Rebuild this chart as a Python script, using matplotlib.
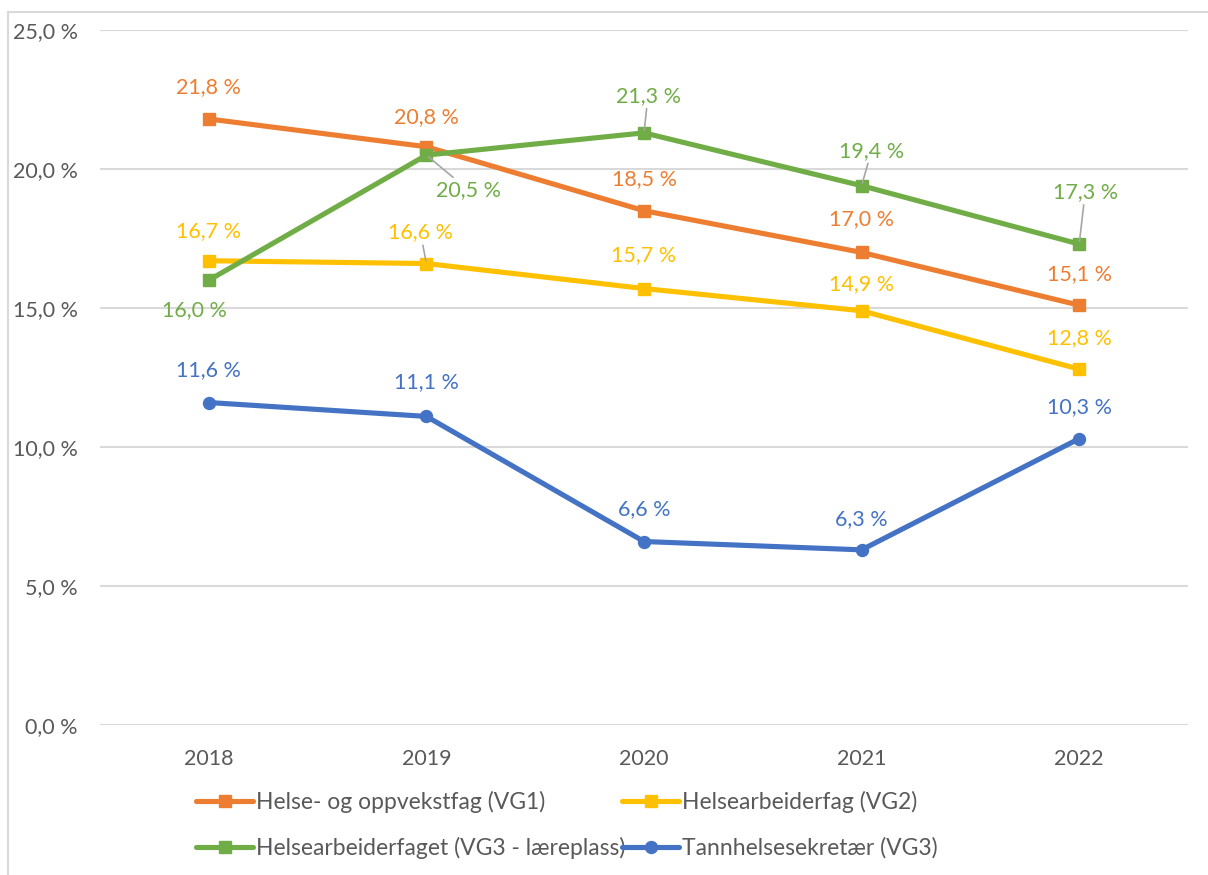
import matplotlib
matplotlib.use("Agg")
import matplotlib.pyplot as plt
from matplotlib.lines import Line2D
from matplotlib.ticker import FuncFormatter

plt.rcParams['font.family'] = ['Lato', 'DejaVu Sans']

years = ["2018", "2019", "2020", "2021", "2022"]
names = ["Helse- og oppvekstfag (VG1)", "Helsearbeiderfag (VG2)",
         "Helsearbeiderfaget (VG3 - læreplass)", "Tannhelsesekretær (VG3)"]
vg1 = [21.8, 20.8, 18.5, 17.0, 15.1]
vg2 = [16.7, 16.6, 15.7, 14.9, 12.8]
vg3_laer = [16.0, 20.5, 21.3, 19.4, 17.3]
tannh = [11.6, 11.1, 6.6, 6.3, 10.3]
series = [vg1, vg2, vg3_laer, tannh]

colors = ["#ED7D31", "#FFC000", "#70AD47", "#4472C4"]
markers = ["s", "s", "s", "o"]
msizes = [8.6, 8.6, 8.0, 8.6]

# label offsets in pixels (dx, dy) and whether a leader line is drawn
offsets = [
    [(0, 32), (0, 30), (0, 32), (0, 33), (0, 31)],
    [(0, 30), (-6, 31), (0, 33), (0, 27), (0, 31)],
    [(-14, -30), (42, -35), (4, 37), (10, 35), (6, 52)],
    [(0, 32), (0, 34), (0, 32), (0, 31), (0, 32)],
]
leaders = [
    [False] * 5,
    [False, True, False, False, False],
    [False, True, True, True, True],
    [False] * 5,
]

W, H = 1208, 875
fig = plt.figure(figsize=(W / 100, H / 100), dpi=100)
ax = fig.add_axes([100 / W, 150 / H, 1088 / W, 695 / H])

x = list(range(len(years)))
handles = []
for i, (vals, c, m, ms) in enumerate(zip(series, colors, markers, msizes)):
    ln, = ax.plot(x, vals, color=c, lw=3.7, marker=m, markersize=ms,
                  solid_capstyle='round', solid_joinstyle='round',
                  label=names[i], zorder=3 + i)
    handles.append(ln)
    for j, v in enumerate(vals):
        dx, dy = offsets[i][j]
        kw = {}
        if leaders[i][j]:
            kw['arrowprops'] = dict(arrowstyle='-', color='#A6A6A6', lw=1.2,
                                    shrinkA=0, shrinkB=2)
        ax.annotate(f"{v:.1f} %".replace('.', ','), xy=(j, v),
                    xytext=(dx, dy), textcoords='offset pixels',
                    ha='center', va='center', color=c, fontsize=15.5,
                    zorder=10, **kw)

ax.set_xlim(-0.5, len(years) - 0.5)
ax.set_ylim(0, 25)
ax.set_yticks([0, 5, 10, 15, 20, 25])
ax.yaxis.set_major_formatter(FuncFormatter(lambda v, p: f"{v:.1f} %".replace('.', ',')))
ax.set_xticks(x)
ax.set_xticklabels(years)
ax.tick_params(axis='both', length=0, labelsize=15.5, labelcolor='#595959')
ax.tick_params(axis='y', pad=16)
ax.tick_params(axis='x', pad=17)
ax.grid(axis='y', color='#D9D9D9', lw=1.5)
ax.set_axisbelow(True)
for s in ax.spines.values():
    s.set_visible(False)

# figure border (chart area)
fig.add_artist(Line2D([8 / W, 8 / W], [0, 1 - 12 / H], color='#D9D9D9', lw=1.5))
fig.add_artist(Line2D([8 / W, 1], [1 - 12 / H, 1 - 12 / H], color='#D9D9D9', lw=1.5))

leg_handles = [handles[0], handles[2], handles[1], handles[3]]
leg = fig.legend(leg_handles, [h.get_label() for h in leg_handles], ncol=2,
                 loc='center left', bbox_to_anchor=(196 / W, 1 - 825 / H),
                 frameon=False, fontsize=16.5, handlelength=2.5,
                 handletextpad=0.12, columnspacing=-0.15, labelspacing=1.05,
                 borderpad=0, borderaxespad=0)
for t in leg.get_texts():
    t.set_color('#595959')

fig.savefig("out.png", dpi=100)
